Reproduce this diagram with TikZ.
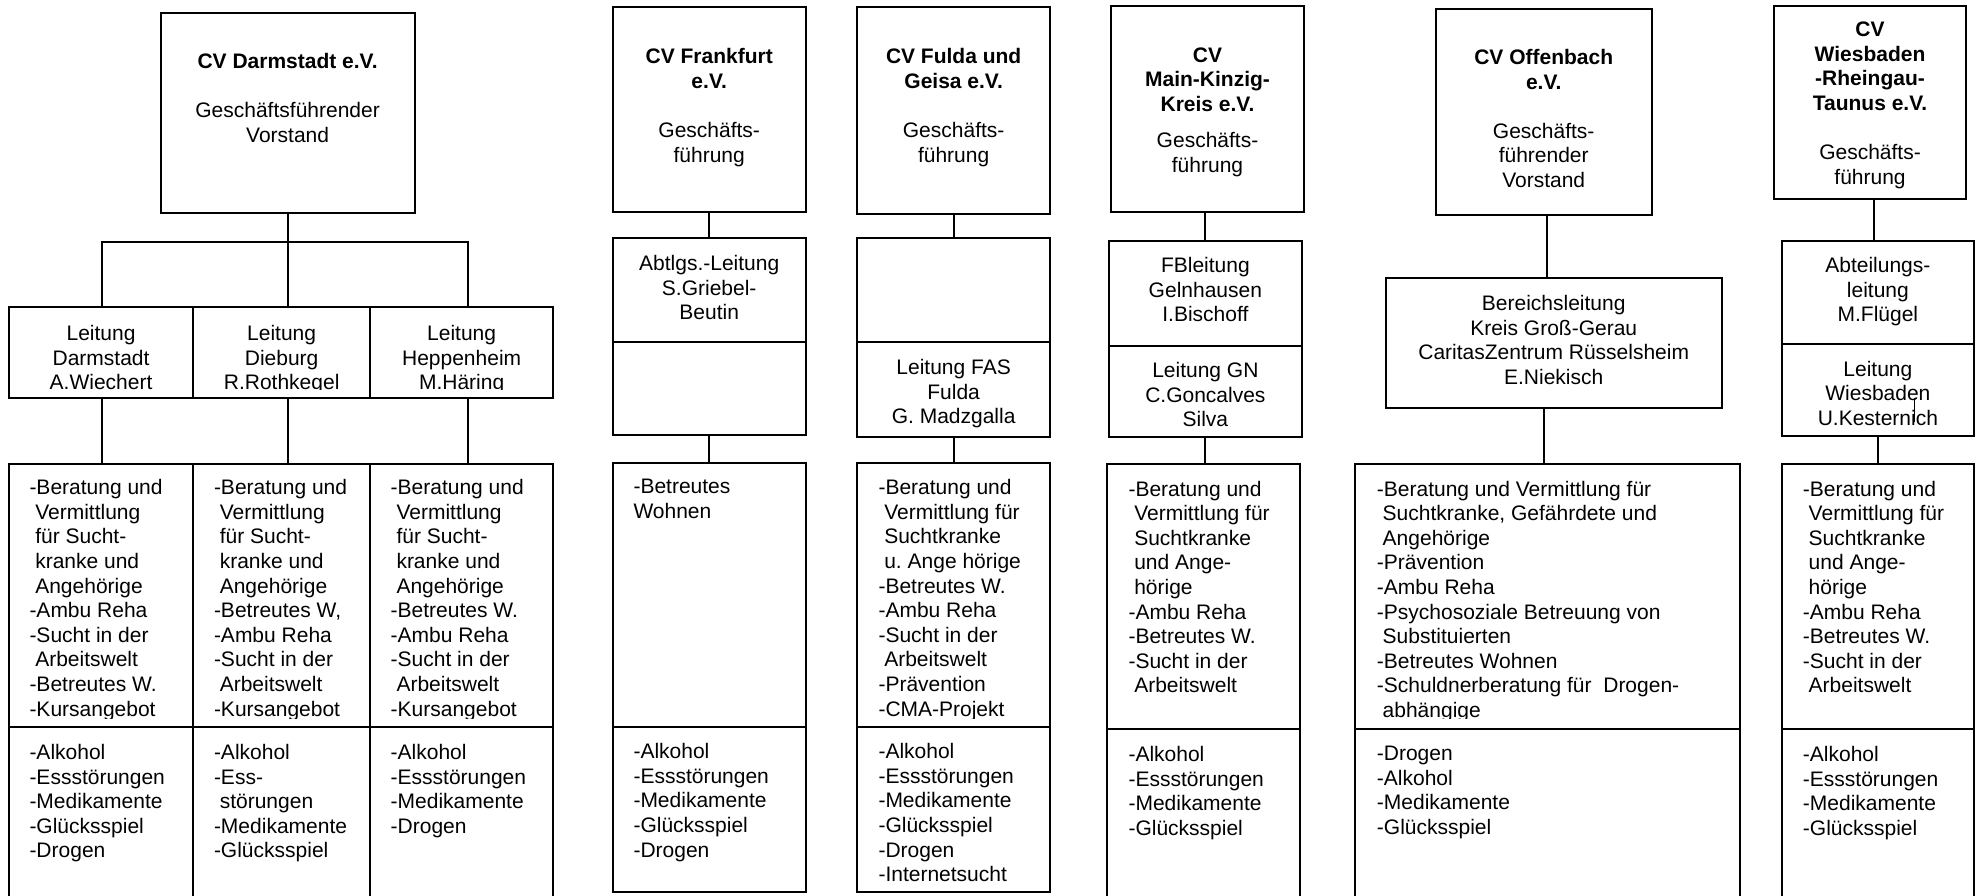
\documentclass[tikz,border=0pt]{standalone}
\usepackage{fontspec}
\setmainfont{Liberation Sans}
\usetikzlibrary{positioning}
\newcommand\indt{\hspace*{5.8pt}}

\begin{document}
\begin{tikzpicture}[x=1pt, y=-1pt, font=\fontsize{21}{24.6}\selectfont,
 box/.style={draw, line width=2pt, inner sep=0pt, outer sep=0pt},
 lbl/.style={inner sep=0pt, align=center},
 lst/.style={inner sep=0pt, align=left},
 conn/.style={line width=2pt}]
\useasboundingbox (0,0) rectangle (1975,895);
\clip (0,0) rectangle (1975,895);

% CV Darmstadt
\node[box, anchor=north west, minimum width=253.8pt, minimum height=200.6pt] (datop) at (160.7,12.7) {};
\node[lbl, below=40.6pt of datop.north] (datoptxt) {\textbf{CV Darmstadt e.V.}\\[24.6pt]Geschäftsführender\\Vorstand};
\node[box, anchor=north west, minimum width=184.5pt, minimum height=91pt] (darm) at (8.8,307.3) {};
\node[box, minimum width=176.7pt, minimum height=91pt, right=0pt of darm] (dieb) {};
\node[box, minimum width=183.3pt, minimum height=91pt, right=0pt of dieb] (hepp) {};
\node[box, anchor=north west, minimum width=184.5pt, minimum height=263.3pt] (darmwork) at (8.8,464) {};
\node[box, minimum width=176.7pt, minimum height=263.3pt, right=0pt of darmwork] (diebwork) {};
\node[box, minimum width=183.3pt, minimum height=263.3pt, right=0pt of diebwork] (heppwork) {};
\node[box, minimum width=184.5pt, minimum height=200pt, below=0pt of darmwork] (darmdrug) {};
\node[box, minimum width=176.7pt, minimum height=200pt, below=0pt of diebwork] (diebdrug) {};
\node[box, minimum width=183.3pt, minimum height=200pt, below=0pt of heppwork] (heppdrug) {};
\begin{scope}
\clip (0,300) rectangle (560,389.5);
\node[lbl, below=17.7pt of darm.north] (darmtxt) {Leitung\\Darmstadt\\A.Wiechert};
\node[lbl, below=17.7pt of dieb.north] (diebtxt) {Leitung\\Dieburg\\R.Rothkegel};
\node[lbl, below=17.7pt of hepp.north] (hepptxt) {Leitung\\Heppenheim\\M.Häring};
\end{scope}
\draw[conn] (datop.south) -- ++(0,28.4) coordinate (dabar);
\draw[conn] ([xshift=1pt]darm.north) |- (dabar) -| ([xshift=6pt]hepp.north);
\draw[conn] (dabar) -- (dabar |- dieb.north);
\draw[conn] ([xshift=1pt]darm.south) -- ([xshift=1pt]darmwork.north);
\draw[conn] (dabar |- dieb.south) -- (dabar |- diebwork.north);
\draw[conn] ([xshift=6pt]hepp.south) -- ([xshift=6pt]heppwork.north);

% CV Frankfurt
\node[box, anchor=north west, minimum width=193pt, minimum height=204.4pt] (fftop) at (612.7,7.3) {};
\node[lbl, below=41pt of fftop.north] (fftoptxt) {\textbf{CV Frankfurt}\\\textbf{e.V.}\\[24.6pt]Geschäfts-\\führung};
\node[box, anchor=north west, minimum width=193pt, minimum height=104.6pt] (fflead) at (612.7,237.7) {};
\node[box, minimum width=193pt, minimum height=93pt, below=0pt of fflead] (fflead2) {};
\node[lbl, below=17.5pt of fflead.north] (ffleadtxt) {Abtlgs.-Leitung\\S.Griebel-\\Beutin};
\node[box, anchor=north west, minimum width=193pt, minimum height=263.4pt] (ffwork) at (612.7,463.3) {};
\node[box, minimum width=193pt, minimum height=165.3pt, below=0pt of ffwork] (ffdrug) {};

% CV Fulda und Geisa
\node[box, anchor=north west, minimum width=192.7pt, minimum height=206.4pt] (fdtop) at (857.3,7.3) {};
\node[lbl, below=41pt of fdtop.north] (fdtoptxt) {\textbf{CV Fulda und}\\\textbf{Geisa e.V.}\\[24.6pt]Geschäfts-\\führung};
\node[box, anchor=north west, minimum width=192.7pt, minimum height=104.6pt] (fdlead) at (857.3,237.7) {};
\node[box, minimum width=192.7pt, minimum height=94.4pt, below=0pt of fdlead] (fdlead2) {};
\node[lbl, below=16.7pt of fdlead2.north] (fdlead2txt) {Leitung FAS\\Fulda\\G. Madzgalla};
\node[box, anchor=north west, minimum width=192.7pt, minimum height=263.4pt] (fdwork) at (857.3,463.3) {};
\node[box, minimum width=192.7pt, minimum height=165.3pt, below=0pt of fdwork] (fddrug) {};

% CV Main-Kinzig-Kreis
\node[box, anchor=north west, minimum width=193pt, minimum height=206.6pt] (mktop) at (1111,5.7) {};
\node[lbl, below=41.6pt of mktop.north] (mktoptxt) {\textbf{CV}\\\textbf{Main-Kinzig-}\\\textbf{Kreis e.V.}\\[12pt]Geschäfts-\\führung};
\node[box, anchor=north west, minimum width=192.7pt, minimum height=105pt] (mklead) at (1109,240.7) {};
\node[box, minimum width=192.7pt, minimum height=91pt, below=0pt of mklead] (mklead2) {};
\node[lbl, below=16.6pt of mklead.north] (mkleadtxt) {FBleitung\\Gelnhausen\\I.Bischoff};
\node[lbl, below=16.6pt of mklead2.north] (mklead2txt) {Leitung GN\\C.Goncalves\\Silva};
\node[box, anchor=north west, minimum width=192.7pt, minimum height=264.4pt] (mkwork) at (1107.3,464.3) {};
\node[box, minimum width=192.7pt, minimum height=200pt, below=0pt of mkwork] (mkdrug) {};
\draw[conn] (mklead.north) -- (mklead.north |- mktop.south);
\draw[conn] (mklead2.south) -- (mklead2.south |- mkwork.north);

% CV Offenbach
\node[box, anchor=north west, minimum width=216pt, minimum height=206pt] (oftop) at (1435.7,9) {};
\node[lbl, below=40pt of oftop.north] (oftoptxt) {\textbf{CV Offenbach}\\\textbf{e.V.}\\[24.6pt]Geschäfts-\\führender\\Vorstand};
\node[box, anchor=north west, minimum width=336pt, minimum height=130pt] (oflead) at (1385.7,278.3) {};
\node[lbl, below=16.7pt of oflead.north] (ofleadtxt) {Bereichsleitung\\Kreis Groß-Gerau\\CaritasZentrum Rüsselsheim\\E.Niekisch};
\node[box, anchor=north west, minimum width=385pt, minimum height=264.4pt] (ofwork) at (1355,464.3) {};
\node[box, minimum width=385pt, minimum height=200pt, below=0pt of ofwork] (ofdrug) {};
\draw[conn] ([xshift=3pt]oftop.south) -- ([xshift=3pt]oftop.south |- oflead.north);
\draw[conn] (oftop.south |- oflead.south) -- (oftop.south |- ofwork.north);

% CV Wiesbaden-Rheingau-Taunus
\node[box, anchor=north west, minimum width=192pt, minimum height=193.6pt] (witop) at (1774,5.7) {};
\node[lbl, below=16pt of witop.north] (witoptxt) {\textbf{CV}\\\textbf{Wiesbaden}\\\textbf{-Rheingau-}\\\textbf{Taunus e.V.}\\[24.6pt]Geschäfts-\\führung};
\node[box, anchor=north west, minimum width=192.3pt, minimum height=103.6pt] (wilead) at (1781.7,240.7) {};
\node[box, minimum width=192.3pt, minimum height=91.7pt, below=0pt of wilead] (wilead2) {};
\node[lbl, below=16.6pt of wilead.north] (wileadtxt) {Abteilungs-\\leitung\\M.Flügel};
\node[lbl, below=16.4pt of wilead2.north] (wilead2txt) {Leitung\\Wiesbaden\\U.Kesternich};
\node[box, anchor=north west, minimum width=192.3pt, minimum height=264.4pt] (wiwork) at (1781.7,464.3) {};
\node[box, minimum width=192.3pt, minimum height=200pt, below=0pt of wiwork] (widrug) {};
\draw[conn] ([xshift=-3.5pt]wilead.north) -- ([xshift=-3.5pt]wilead.north |- witop.south);
\draw[line width=1.5pt] (1914.3,398) -- (1914.3,421.7);

\foreach \a/\b in {fftop/fflead, fflead2/ffwork, fdtop/fdlead, fdlead2/fdwork, wilead2/wiwork}
 \draw[conn] (\a) -- (\b);

% Angebote
\begin{scope}
\clip (0,460) rectangle (1975,718);
\node[lst, below right=15.3pt and 20.5pt of darmwork.north west] (darmworktxt) {-Beratung und\\\indt Vermittlung\\\indt für Sucht-\\\indt kranke und\\\indt Angehörige\\-Ambu Reha\\-Sucht in der\\\indt Arbeitswelt\\-Betreutes W.\\-Kursangebot};
\node[lst, below right=15.3pt and 20.5pt of diebwork.north west] (diebworktxt) {-Beratung und\\\indt Vermittlung\\\indt für Sucht-\\\indt kranke und\\\indt Angehörige\\-Betreutes W,\\-Ambu Reha\\-Sucht in der\\\indt Arbeitswelt\\-Kursangebot};
\node[lst, below right=15.3pt and 20.5pt of heppwork.north west] (heppworktxt) {-Beratung und\\\indt Vermittlung\\\indt für Sucht-\\\indt kranke und\\\indt Angehörige\\-Betreutes W.\\-Ambu Reha\\-Sucht in der\\\indt Arbeitswelt\\-Kursangebot};
\node[lst, below right=16pt and 20.6pt of ffwork.north west] (ffworktxt) {-Betreutes\\Wohnen};
\node[lst, below right=16pt and 21pt of fdwork.north west] (fdworktxt) {-Beratung und\\\indt Vermittlung für\\\indt Suchtkranke\\\indt u.\ Ange hörige\\-Betreutes W.\\-Ambu Reha\\-Sucht in der\\\indt Arbeitswelt\\-Prävention\\-CMA-Projekt};
\node[lst, below right=16.4pt and 21pt of mkwork.north west] (mkworktxt) {-Beratung und\\\indt Vermittlung für\\\indt Suchtkranke\\\indt und Ange-\\\indt hörige\\-Ambu Reha\\-Betreutes W.\\-Sucht in der\\\indt Arbeitswelt};
\node[lst, below right=16.4pt and 21.7pt of ofwork.north west] (ofworktxt) {-Beratung und Vermittlung für\\\indt Suchtkranke, Gefährdete und\\\indt Angehörige\\-Prävention\\-Ambu Reha\\-Psychosoziale Betreuung von\\\indt Substituierten\\-Betreutes Wohnen\\-Schuldnerberatung für \ Drogen-\\\indt abhängige};
\node[lst, below right=16.4pt and 21pt of wiwork.north west] (wiworktxt) {-Beratung und\\\indt Vermittlung für\\\indt Suchtkranke\\\indt und Ange-\\\indt hörige\\-Ambu Reha\\-Betreutes W.\\-Sucht in der\\\indt Arbeitswelt};
\end{scope}

% Suchtformen
\node[lst, below right=16.7pt and 20.5pt of darmdrug.north west] (darmdrugtxt) {-Alkohol\\-Essstörungen\\-Medikamente\\-Glücksspiel\\-Drogen};
\node[lst, below right=16.7pt and 20.5pt of diebdrug.north west] (diebdrugtxt) {-Alkohol\\-Ess-\\\indt störungen\\-Medikamente\\-Glücksspiel};
\node[lst, below right=16.7pt and 20.5pt of heppdrug.north west] (heppdrugtxt) {-Alkohol\\-Essstörungen\\-Medikamente\\-Drogen};
\node[lst, below right=16.6pt and 20.6pt of ffdrug.north west] (ffdrugtxt) {-Alkohol\\-Essstörungen\\-Medikamente\\-Glücksspiel\\-Drogen};
\node[lst, below right=16.6pt and 21pt of fddrug.north west] (fddrugtxt) {-Alkohol\\-Essstörungen\\-Medikamente\\-Glücksspiel\\-Drogen\\-Internetsucht};
\node[lst, below right=17.3pt and 21pt of mkdrug.north west] (mkdrugtxt) {-Alkohol\\-Essstörungen\\-Medikamente\\-Glücksspiel};
\node[lst, below right=17.3pt and 21.7pt of ofdrug.north west] (ofdrugtxt) {-Drogen\\-Alkohol\\-Medikamente\\-Glücksspiel};
\node[lst, below right=17.3pt and 21pt of widrug.north west] (widrugtxt) {-Alkohol\\-Essstörungen\\-Medikamente\\-Glücksspiel};
\end{tikzpicture}
\end{document}
